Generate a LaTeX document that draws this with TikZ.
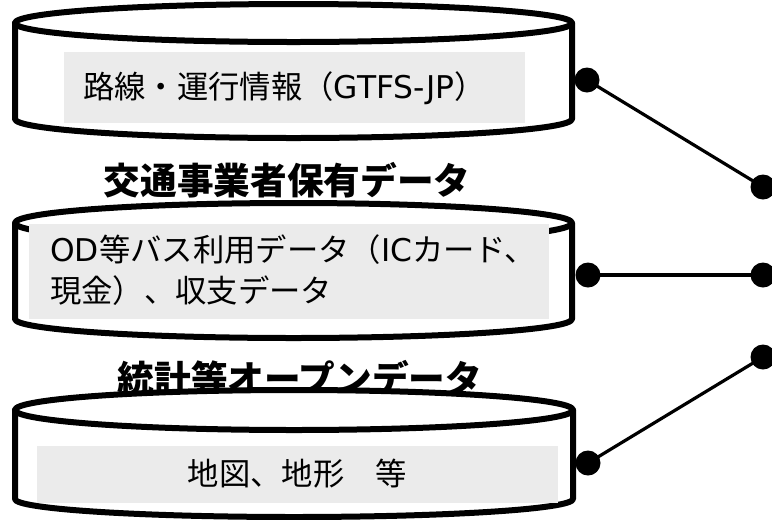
\documentclass[tikz,border=0pt]{standalone}
\usepackage{fontspec}
\setmainfont{Noto Sans CJK JP}
\newfontfamily\lat{DejaVu Sans}
\definecolor{boxgray}{RGB}{235,235,235}
\tikzset{
  canline/.style={line width=4.5pt, line join=round, line cap=round, draw=black},
  canfill/.style={fill=white},
  graybox/.style={fill=boxgray},
  dot/.style={circle, fill=black, inner sep=0pt, minimum size=18.75pt},
  conn/.style={line width=2.4pt, draw=black},
  bodytext/.style={inner sep=0pt, font=\fontsize{23.5}{30.75}\selectfont},
  titletext/.style={inner sep=0pt, font=\bfseries\fontsize{27.5}{30}\selectfont}
}
\begin{document}
\begin{tikzpicture}[x=0.75pt,y=-0.75pt]
\useasboundingbox (0,0) rectangle (772,519);
% ---------- cylinder 1
\fill[canfill] (15,23) -- (15,119) arc[start angle=180,end angle=0,x radius=278.5,y radius=19] -- (572,23) arc[start angle=0,end angle=-180,x radius=278.5,y radius=19] -- cycle;
\draw[canline] (293.5,23) ellipse [x radius=278.5, y radius=19];
\draw[canline] (15,23) -- (15,119) arc[start angle=180,end angle=0,x radius=278.5,y radius=19] -- (572,23);
\fill[graybox] (64,52) rectangle (525,123);
\node[bodytext, anchor=west] (t1) at (83,88) {路線・運行情報（{\lat GTFS-JP}）};
% ---------- title 1
\node[titletext] (h1) at (287,180) {交通事業者保有データ};
% ---------- cylinder 2
\fill[canfill] (15,223) -- (15,319) arc[start angle=180,end angle=0,x radius=278.5,y radius=19] -- (572,223) arc[start angle=0,end angle=-180,x radius=278.5,y radius=20] -- cycle;
\draw[canline] (293.5,223) ellipse [x radius=278.5, y radius=20];
\draw[canline] (15,223) -- (15,319) arc[start angle=180,end angle=0,x radius=278.5,y radius=19] -- (572,223);
\fill[graybox] (29,224) rectangle (549,319);
\node[bodytext, anchor=west, align=left] (t2) at (50,270) {{\lat OD}等バス利用データ（{\lat IC}カード、\\現金）、収支データ};
% ---------- title 2
\node[titletext] (h2) at (300,378) {統計等オープンデータ};
% ---------- cylinder 3
\fill[canfill] (15,410) -- (15,499) arc[start angle=180,end angle=0,x radius=279,y radius=18] -- (573,410) arc[start angle=0,end angle=-180,x radius=279,y radius=20] -- cycle;
\draw[canline] (294,410) ellipse [x radius=279, y radius=20];
\draw[canline] (15,410) -- (15,499) arc[start angle=180,end angle=0,x radius=279,y radius=18] -- (573,410);
\fill[graybox] (37,446) rectangle (558,503);
\node[bodytext] (t3) at (297.5,474) {地図、地形　等};
% ---------- connectors
\node[dot] (a1) at (587,80) {};
\node[dot] (a2) at (588,275) {};
\node[dot] (a3) at (588,463) {};
\node[dot] (b1) at (763,187) {};
\node[dot] (b2) at (763,275) {};
\node[dot] (b3) at (763,357) {};
\draw[conn] (a1.center) -- (b1.center);
\draw[conn] (a2.center) -- (b2.center);
\draw[conn] (a3.center) -- (b3.center);
\end{tikzpicture}
\end{document}
